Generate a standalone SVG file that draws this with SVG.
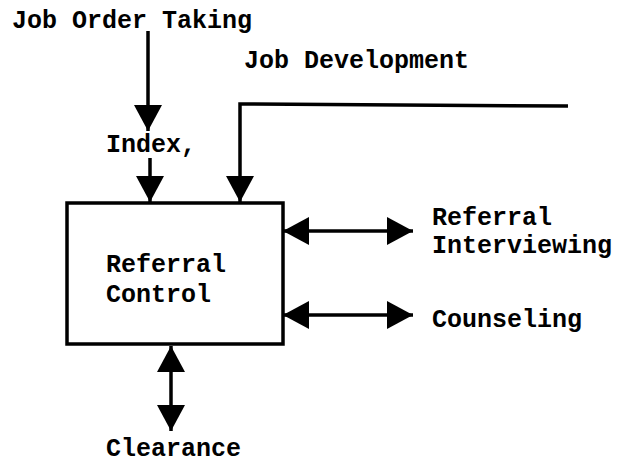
<svg xmlns="http://www.w3.org/2000/svg" width="626" height="466" viewBox="0 0 626 466">
<style>
text{font-family:"Liberation Mono","Courier New",monospace;font-size:25px;font-weight:bold;fill:#000}
.c{fill:none;stroke:#000;stroke-width:3.5}
.box{fill:#fff;stroke:#000;stroke-width:3.5}
</style>
<defs>
<marker id="ah" viewBox="0 0 26 28" refX="26" refY="14" markerWidth="26" markerHeight="28" markerUnits="userSpaceOnUse" orient="auto-start-reverse">
<path d="M0,0 L26,14 L0,28 Z" fill="#000"/>
</marker>
</defs>
<rect width="626" height="466" fill="#fff"/>
<g id="connectors">
<path class="c" d="M148,31 V131" marker-end="url(#ah)"/>
<path class="c" d="M150,158 V202" marker-end="url(#ah)"/>
<path class="c" d="M568,106 L240,104 V202" marker-end="url(#ah)"/>
<path class="c" d="M283,231 H413" marker-start="url(#ah)" marker-end="url(#ah)"/>
<path class="c" d="M283,315 H413" marker-start="url(#ah)" marker-end="url(#ah)"/>
<path class="c" d="M171,346 V431" marker-start="url(#ah)" marker-end="url(#ah)"/>
</g>
<g id="job-order-taking"><text x="12" y="28">Job Order Taking</text></g>
<g id="job-development"><text x="244" y="68">Job Development</text></g>
<g id="index"><text x="106" y="152">Index,</text></g>
<g id="referral-control">
<rect class="box" x="67" y="203" width="216" height="141"/>
<text x="106" y="272">Referral</text>
<text x="106" y="302">Control</text>
</g>
<g id="referral-interviewing">
<text x="432" y="225">Referral</text>
<text x="432" y="253">Interviewing</text>
</g>
<g id="counseling"><text x="432" y="327">Counseling</text></g>
<g id="clearance"><text x="106" y="456">Clearance</text></g>
</svg>
